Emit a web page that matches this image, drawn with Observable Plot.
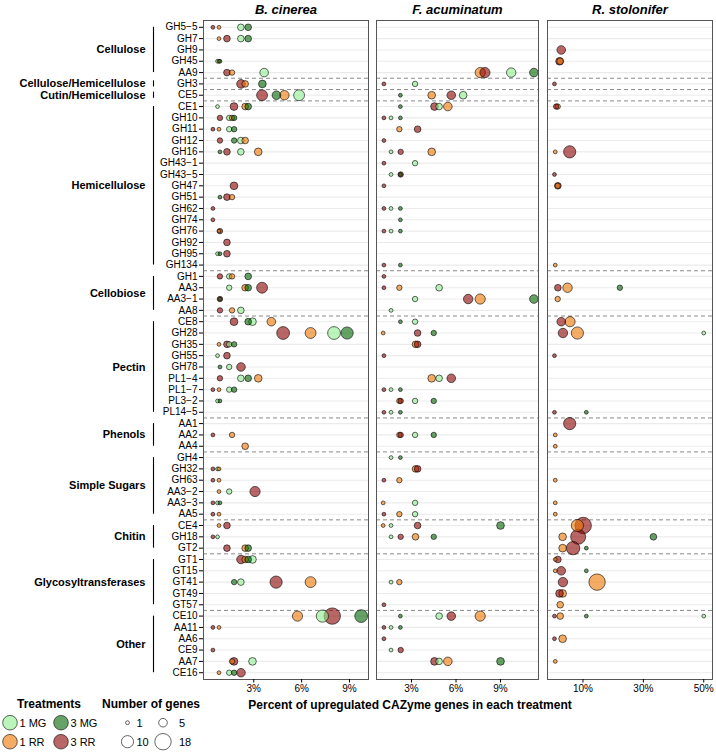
<!DOCTYPE html>
<html><head><meta charset="utf-8">
<script src="https://cdn.jsdelivr.net/npm/d3@7"></script>
<script src="https://cdn.jsdelivr.net/npm/@observablehq/plot@0.6"></script>
<style>
body{margin:0;background:#fff;}
#chart{position:relative;width:716px;height:752px;font-family:"Liberation Sans",Arial,sans-serif;}
#chart > svg, #chart > div{position:absolute;}
</style></head><body><div id="chart"></div>
<script>
// ---------- data ----------
const categories = ["GH5-5","GH7","GH9","GH45","AA9","GH3","CE5","CE1","GH10","GH11","GH12","GH16","GH43-1","GH43-5","GH47","GH51","GH62","GH74","GH76","GH92","GH95","GH134","GH1","AA3","AA3-1","AA8","CE8","GH28","GH35","GH55","GH78","PL1-4","PL1-7","PL3-2","PL14-5","AA1","AA2","AA4","GH4","GH32","GH63","AA3-2","AA3-3","AA5","CE4","GH18","GT2","GT1","GT15","GT41","GT49","GT57","CE10","AA11","AA6","CE9","AA7","CE16"];
const groupNames = ["Cellulose","Cellulose/Hemicellulose","Cutin/Hemicellulose","Hemicellulose","Cellobiose","Pectin","Phenols","Simple Sugars","Chitin","Glycosyltransferases","Other"];
const groupSizes = [5,1,1,15,4,9,3,6,3,5,6];
const treatments = ["1 MG","1 RR","3 MG","3 RR"];
const treatmentColors = ["lightgreen","#ee7600","darkgreen","darkred"];
const fungi = ["B. cinerea","F. acuminatum","R. stolonifer"];
const sizeBreaks = [1,5,10,18];
const ticksB = [3,6,9], ticksF = [3,6,9], ticksR = [10,30,50];
const xTitle = "Percent of upregulated CAZyme genes in each treatment";

// [CAZyme, treatment, percent, number of genes]
const bCinerea = [
["GH5-5","3 RR",0.44,1],["GH5-5","1 RR",0.82,1],["GH5-5","1 MG",2.19,3],["GH5-5","3 MG",2.65,3],
["GH7","1 RR",0.82,1],["GH7","3 RR",1.32,3],["GH7","1 MG",2.19,3],["GH7","3 MG",2.65,3],
["GH45","1 MG",0.73,1],["GH45","1 RR",0.82,1],["GH45","3 MG",0.88,1],
["AA9","3 RR",1.32,3],["AA9","1 RR",1.64,2],["AA9","1 MG",3.65,5],
["GH3","3 RR",2.20,5],["GH3","1 RR",2.46,3],["GH3","3 MG",3.54,4],
["CE5","3 RR",3.52,8],["CE5","3 MG",4.42,5],["CE5","1 RR",4.92,6],["CE5","1 MG",5.84,8],
["CE1","1 MG",0.73,1],["CE1","3 RR",1.76,4],["CE1","1 RR",2.46,3],["CE1","3 MG",2.65,3],
["GH10","3 RR",0.88,2],["GH10","1 MG",1.46,2],["GH10","1 RR",1.64,2],["GH10","3 MG",1.77,2],
["GH11","3 RR",0.44,1],["GH11","1 RR",0.82,1],["GH11","1 MG",1.46,2],["GH11","3 MG",1.77,2],
["GH12","3 RR",0.88,2],["GH12","3 MG",1.77,2],["GH12","1 MG",2.19,3],["GH12","1 RR",2.46,3],
["GH16","3 MG",0.88,1],["GH16","3 RR",1.32,3],["GH16","1 MG",2.19,3],["GH16","1 RR",3.28,4],
["GH47","3 RR",1.76,4],
["GH51","3 MG",0.88,1],["GH51","3 RR",1.32,3],["GH51","1 RR",1.64,2],
["GH62","3 RR",0.44,1],["GH74","3 RR",0.44,1],
["GH76","1 RR",0.82,1],["GH76","3 RR",0.88,2],
["GH92","3 RR",1.32,3],
["GH95","1 MG",0.73,1],["GH95","3 MG",0.88,1],["GH95","3 RR",1.32,3],
["GH1","3 RR",0.88,2],["GH1","1 MG",1.46,2],["GH1","1 RR",1.64,2],["GH1","3 MG",2.65,3],
["AA3","1 MG",1.46,2],["AA3","1 RR",2.46,3],["AA3","3 MG",2.65,3],["AA3","3 RR",3.52,8],
["AA3-1","3 MG",0.88,1],["AA3-1","3 RR",0.88,2],
["AA8","3 RR",0.88,2],["AA8","1 RR",1.64,2],["AA8","1 MG",2.19,3],
["CE8","3 RR",1.76,4],["CE8","3 MG",2.65,3],["CE8","1 MG",2.92,4],["CE8","1 RR",4.10,5],
["GH28","3 RR",4.84,11],["GH28","1 RR",6.56,8],["GH28","1 MG",8.03,11],["GH28","3 MG",8.85,10],
["GH35","1 RR",0.82,1],["GH35","3 RR",1.32,3],["GH35","1 MG",1.46,2],["GH35","3 MG",1.77,2],
["GH55","1 MG",0.73,1],["GH55","3 RR",1.32,3],
["GH78","3 MG",0.88,1],["GH78","1 MG",1.46,2],["GH78","3 RR",2.20,5],
["PL1-4","3 RR",0.88,2],["PL1-4","1 MG",2.19,3],["PL1-4","3 MG",2.65,3],["PL1-4","1 RR",3.28,4],
["PL1-7","3 RR",0.44,1],["PL1-7","1 RR",0.82,1],["PL1-7","1 MG",1.46,2],["PL1-7","3 MG",1.77,2],
["PL3-2","1 MG",0.73,1],["PL3-2","3 MG",0.88,1],
["AA2","3 RR",0.44,1],["AA2","1 RR",1.64,2],
["AA4","1 RR",2.46,3],
["GH32","3 RR",0.44,1],["GH32","1 MG",0.73,1],["GH32","1 RR",0.82,1],
["GH63","3 RR",0.44,1],["GH63","1 RR",0.82,1],
["AA3-2","1 RR",0.82,1],["AA3-2","1 MG",1.46,2],["AA3-2","3 RR",3.08,7],
["AA3-3","3 RR",0.44,1],["AA3-3","1 MG",0.73,1],["AA3-3","3 MG",0.88,1],
["AA5","3 RR",0.44,1],["AA5","1 RR",0.82,1],
["CE4","1 RR",0.82,1],["CE4","3 RR",1.32,3],
["GH18","3 RR",0.44,1],["GH18","1 MG",0.73,1],
["GT2","3 RR",1.32,3],["GT2","1 RR",2.46,3],["GT2","3 MG",2.65,3],
["GT1","3 RR",2.20,5],["GT1","1 RR",2.46,3],["GT1","3 MG",2.65,3],["GT1","1 MG",2.92,4],
["GT41","3 MG",1.77,2],["GT41","1 MG",2.19,3],["GT41","3 RR",4.40,10],["GT41","1 RR",6.56,8],
["CE10","1 RR",5.74,7],["CE10","1 MG",7.30,10],["CE10","3 RR",7.92,18],["CE10","3 MG",9.73,11],
["AA11","3 RR",0.44,1],["AA11","1 RR",0.82,1],
["CE9","3 RR",0.44,1],
["AA7","1 RR",1.64,2],["AA7","3 RR",1.76,4],["AA7","1 MG",2.92,4],
["CE16","1 RR",0.82,1],["CE16","1 MG",1.46,2],["CE16","3 MG",1.77,2],["CE16","3 RR",2.20,5]
];
const fAcuminatum = [
["AA9","1 RR",7.63,7],["AA9","3 RR",7.95,7],["AA9","1 MG",9.72,6],["AA9","3 MG",11.25,5],
["GH3","3 RR",1.14,1],["GH3","1 MG",3.24,2],
["CE5","3 MG",2.25,1],["CE5","1 RR",4.36,4],["CE5","3 RR",5.68,5],["CE5","1 MG",6.48,4],
["CE1","3 MG",2.25,1],["CE1","3 RR",4.55,4],["CE1","1 MG",4.86,3],["CE1","1 RR",5.45,5],
["GH10","3 RR",1.14,1],["GH10","1 MG",1.62,1],["GH10","3 MG",2.25,1],
["GH11","1 RR",2.18,2],["GH11","3 RR",3.41,3],
["GH12","3 RR",1.14,1],
["GH16","1 MG",1.62,1],["GH16","3 RR",2.27,2],["GH16","1 RR",4.36,4],
["GH43-1","3 RR",1.14,1],["GH43-1","1 MG",3.24,2],
["GH43-5","1 MG",1.62,1],["GH43-5","3 MG",2.25,1],["GH43-5","3 RR",2.27,2],
["GH47","3 RR",1.14,1],
["GH62","3 RR",1.14,1],["GH62","1 MG",1.62,1],["GH62","3 MG",2.25,1],
["GH74","3 MG",2.25,1],
["GH76","3 RR",1.14,1],["GH76","1 MG",1.62,1],["GH76","3 MG",2.25,1],
["GH134","3 RR",1.14,1],["GH134","3 MG",2.25,1],
["GH1","3 RR",1.14,1],
["AA3","3 RR",1.14,1],["AA3","1 RR",2.18,2],["AA3","1 MG",4.86,3],
["AA3-1","1 MG",3.24,2],["AA3-1","3 RR",6.82,6],["AA3-1","1 RR",7.63,7],["AA3-1","3 MG",11.25,5],
["AA8","1 MG",1.62,1],
["CE8","3 MG",2.25,1],["CE8","1 MG",3.24,2],
["GH28","1 RR",1.09,1],["GH28","3 RR",3.41,3],["GH28","3 MG",4.50,2],
["GH35","1 RR",3.27,3],["GH35","3 RR",3.41,3],
["GH55","3 RR",1.14,1],
["PL1-4","1 RR",4.36,4],["PL1-4","1 MG",4.86,3],["PL1-4","3 RR",5.68,5],
["PL1-7","3 RR",1.14,1],["PL1-7","1 MG",1.62,1],["PL1-7","3 MG",2.25,1],
["PL3-2","1 RR",2.18,2],["PL3-2","3 RR",2.27,2],["PL3-2","1 MG",3.24,2],["PL3-2","3 MG",4.50,2],
["PL14-5","3 RR",1.14,1],["PL14-5","1 MG",1.62,1],["PL14-5","3 MG",2.25,1],
["AA2","1 RR",2.18,2],["AA2","3 RR",2.27,2],["AA2","1 MG",3.24,2],["AA2","3 MG",4.50,2],
["GH4","1 MG",1.62,1],["GH4","3 MG",2.25,1],
["GH32","1 RR",3.27,3],["GH32","3 RR",3.41,3],
["GH63","3 RR",1.14,1],["GH63","1 RR",2.18,2],
["AA3-3","1 RR",1.09,1],["AA3-3","1 MG",3.24,2],
["AA5","3 RR",1.14,1],["AA5","1 RR",2.18,2],["AA5","1 MG",3.24,2],
["CE4","1 RR",1.09,1],["CE4","1 MG",1.62,1],["CE4","3 RR",3.41,3],["CE4","3 MG",9.00,4],
["GH18","1 MG",1.62,1],["GH18","3 RR",2.27,2],["GH18","1 RR",3.27,3],["GH18","3 MG",4.50,2],
["GT41","1 MG",1.62,1],["GT41","1 RR",2.18,2],
["GT57","3 RR",1.14,1],
["CE10","3 MG",2.25,1],["CE10","1 MG",4.86,3],["CE10","3 RR",5.68,5],["CE10","1 RR",7.63,7],
["AA11","3 RR",1.14,1],["AA11","1 MG",1.62,1],["AA11","3 MG",2.25,1],
["AA6","3 RR",1.14,1],
["CE9","1 MG",1.62,1],["CE9","3 RR",2.27,2],
["AA7","3 RR",4.55,4],["AA7","1 MG",4.86,3],["AA7","1 RR",5.45,5],["AA7","3 MG",9.00,4]
];
const rStolonifer = [
["GH9","3 RR",2.80,5],
["GH45","1 RR",2.45,3],["GH45","3 RR",2.24,4],
["GH3","3 RR",0.56,1],
["CE1","1 RR",1.63,2],["CE1","3 RR",1.12,2],
["GH16","1 RR",0.82,1],["GH16","3 RR",5.60,10],
["GH43-5","3 RR",0.56,1],
["GH47","1 RR",1.63,2],["GH47","3 RR",1.68,3],
["GH134","1 RR",0.82,1],
["AA3","3 RR",1.68,3],["AA3","1 RR",4.89,6],["AA3","3 MG",22.22,2],
["AA3-1","1 RR",1.63,2],
["CE8","3 RR",2.80,5],["CE8","1 RR",5.71,7],
["GH28","3 RR",3.36,6],["GH28","1 RR",8.15,10],["GH28","1 MG",50.0,1],
["GH55","3 RR",0.56,1],
["PL14-5","3 RR",0.56,1],["PL14-5","3 MG",11.11,1],
["AA1","3 RR",5.60,10],
["AA2","1 RR",0.82,1],["AA4","1 RR",0.82,1],["GH63","1 RR",0.82,1],
["AA3-3","1 RR",0.82,1],["AA5","1 RR",0.82,1],
["CE4","1 RR",8.15,10],["CE4","3 RR",10.08,18],
["GH18","1 RR",3.26,4],["GH18","3 RR",8.40,15],["GH18","3 MG",33.33,3],
["GT2","1 RR",3.26,4],["GT2","3 RR",6.72,12],["GT2","3 MG",11.11,1],
["GT1","1 RR",0.82,1],["GT1","3 RR",1.68,3],
["GT15","1 RR",0.82,1],["GT15","3 RR",2.80,5],["GT15","3 MG",11.11,1],
["GT41","3 RR",3.36,6],["GT41","1 RR",14.67,18],
["GT49","3 RR",2.24,4],["GT49","1 RR",3.26,4],
["GT57","1 RR",2.45,3],
["CE10","3 RR",0.56,1],["CE10","1 RR",2.45,3],["CE10","3 MG",11.11,1],["CE10","1 MG",50.0,1],
["AA6","3 RR",0.56,1],["AA6","1 RR",3.26,4],
["AA7","1 RR",0.82,1]
];

// ---------- layout ----------
const H = 700, MT = 20, MB = 21;
const font = "'Liberation Sans', Arial, sans-serif";
const rOpts = {type: "sqrt", domain: [1, 18], range: [1.9, 8.2]};
const colorOpts = {domain: treatments, range: treatmentColors};
const nRows = categories.length;

const groupRows = [];
{
  let start = 0;
  groupNames.forEach((name, i) => {
    const first = start, last = start + groupSizes[i] - 1;
    groupRows.push({name, first, last, mid: (first + last) / 2,
      y1: groupSizes[i] === 1 ? first - 0.27 : first,
      y2: groupSizes[i] === 1 ? last + 0.27 : last});
    start += groupSizes[i];
  });
}
const boundaries = groupRows.slice(0, -1).map(g => g.last + 0.5);

function panel({title, data, left, width, ml, mr, domain, ticks, withAxis}) {
  const rows = data.map(([c, t, p, g]) => ({cazyme: c, idx: categories.indexOf(c), treatment: t, pct: p, genes: g}))
    .sort((a, b) => treatments.indexOf(a.treatment) - treatments.indexOf(b.treatment));
  const marks = [
    Plot.ruleY(d3.range(nRows), {stroke: "#ebebeb", strokeWidth: 1.1}),
    Plot.ruleY(boundaries, {stroke: "#8a8a8a", strokeWidth: 1, strokeDasharray: "4,3"}),
    Plot.dot(rows, {x: "pct", y: "idx", r: "genes", fill: "treatment", fillOpacity: 0.6, stroke: "black", strokeWidth: 0.6}),
    Plot.frame({stroke: "#555", strokeWidth: 1}),
    Plot.axisX({ticks, tickFormat: d => d + "%", tickSize: 3.5, tickPadding: 2, fontSize: 10, label: null}),
    Plot.text([title], {frameAnchor: "top", lineAnchor: "middle", dy: -11, fontWeight: "bold", fontStyle: "italic", fontSize: 13})
  ];
  if (withAxis) {
    marks.push(
      Plot.axisY({ticks: d3.range(nRows), tickFormat: i => categories[i].replace(/-/g, "\u2212"), tickSize: 4, tickPadding: 2, fontSize: 10, label: null}),
      Plot.ruleX(groupRows, {x: () => domain[0], y1: "y1", y2: "y2", dx: -50, stroke: "black", strokeWidth: 1.1}),
      Plot.text(groupRows, {x: () => domain[0], y: "mid", text: "name", textAnchor: "end", dx: -58, fontWeight: "bold", fontSize: 11})
    );
  }
  const svg = Plot.plot({
    width, height: H, marginLeft: ml, marginRight: mr, marginTop: MT, marginBottom: MB,
    style: {fontFamily: font, fontSize: "10px", background: "transparent", overflow: "visible"},
    x: {domain, axis: null},
    y: {domain: [-0.6, nRows - 0.4], reverse: true, axis: null},
    r: rOpts,
    color: colorOpts,
    marks
  });
  svg.style.left = left + "px";
  svg.style.top = "0px";
  return svg;
}

const chart = document.getElementById("chart");
chart.append(panel({title: fungi[0], data: bCinerea, left: 0, width: 370, ml: 203, mr: 2, domain: [-0.15, 10.19], ticks: ticksB, withAxis: true}));
chart.append(panel({title: fungi[1], data: fAcuminatum, left: 370, width: 170, ml: 6, mr: 2, domain: [0.64, 11.56], ticks: ticksF}));
chart.append(panel({title: fungi[2], data: rStolonifer, left: 540, width: 176, ml: 7, mr: 4, domain: [-1.75, 52.9], ticks: ticksR}));

// x axis title
const xt = document.createElement("div");
xt.textContent = xTitle;
Object.assign(xt.style, {left: "410px", top: "698px", transform: "translateX(-50%)", whiteSpace: "nowrap",
  fontWeight: "bold", fontSize: "12px", fontFamily: font, lineHeight: "15px"});
chart.append(xt);

// legend
let rScale;
try { rScale = Plot.scale({r: rOpts}); } catch (e) { rScale = null; }
const rOf = n => rScale ? rScale.apply(n) : d3.scaleSqrt().domain(rOpts.domain).range(rOpts.range)(n);
const colorOf = t => treatmentColors[treatments.indexOf(t)];
const leg = d3.create("svg").attr("width", 220).attr("height", 62)
  .style("left", "0px").style("top", "690px").style("font-family", font);
leg.append("text").attr("x", 17).attr("y", 18).attr("font-weight", "bold").attr("font-size", 12).text("Treatments");
leg.append("text").attr("x", 102).attr("y", 18).attr("font-weight", "bold").attr("font-size", 12).text("Number of genes");
const rowY = [32.7, 51.7];
treatments.forEach((t, i) => {
  const col = t.startsWith("1") ? 0 : 1, row = t.endsWith("MG") ? 0 : 1;
  const cx = col === 0 ? 10 : 61;
  leg.append("circle").attr("cx", cx).attr("cy", rowY[row]).attr("r", 7.3)
    .attr("fill", colorOf(t)).attr("fill-opacity", 0.6).attr("stroke", "black").attr("stroke-width", 0.6);
  leg.append("text").attr("x", cx + 9.5).attr("y", rowY[row] + 4).attr("font-size", 11).text(t);
});
sizeBreaks.forEach((n, i) => {
  const row = i < 2 ? 0 : 1, col = i % 2;
  const cx = col === 0 ? 127.5 : 163;
  const r = rOf(n);
  leg.append("circle").attr("cx", cx).attr("cy", rowY[row]).attr("r", r)
    .attr("fill", "white").attr("stroke", "black").attr("stroke-width", 0.6);
  leg.append("text").attr("x", col === 0 ? 136.5 : 179).attr("y", rowY[row] + 4).attr("font-size", 11).text(n);
});
chart.append(leg.node());
</script>
</body></html>
